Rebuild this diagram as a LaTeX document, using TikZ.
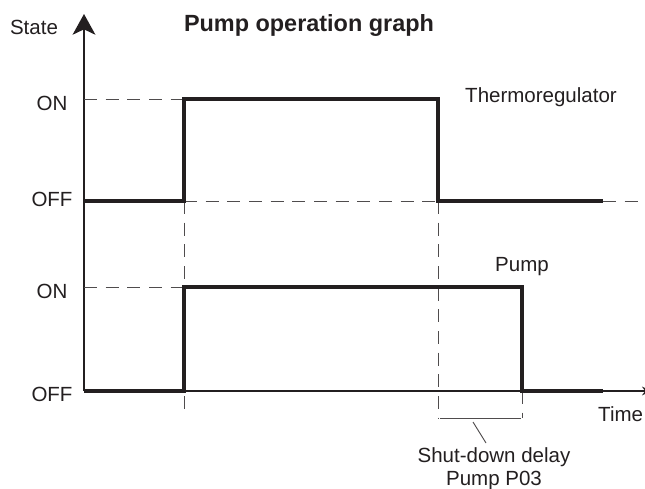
\documentclass[tikz,border=0pt]{standalone}
\usepackage{fontspec}
\setmainfont{Liberation Sans}
\usetikzlibrary{arrows.meta}
\definecolor{ink}{HTML}{231F20}
\tikzset{
  signal/.style={draw=ink,line width=3.4pt},
  guide/.style={draw=ink!80,line width=0.8pt,dash pattern=on 11pt off 7.5pt},
  thinline/.style={draw=ink!80,line width=0.8pt},
  lbl/.style={inner sep=0pt,anchor=base,font=\fontsize{17.5}{20}\selectfont,text=ink}
}
\begin{document}
\begin{tikzpicture}[x=0.03cm,y=-0.03cm]
\useasboundingbox (0,0) rectangle (645,489);
% axes
\draw[draw=ink,line width=2pt,-{Stealth[length=0.62cm,width=0.68cm,inset=0.16cm]}] (84,391) -- (84,14);
\draw[draw=ink,line width=1pt,-{Stealth[length=0.3cm,width=0.26cm]}] (84,391) -- (652,391);
% guide lines
\draw[guide] (84,99) -- (184,99);
\draw[guide] (184,201) -- (438,201);
\draw[guide] (603,201) -- (645,201);
\draw[guide] (84,287) -- (184,287);
\draw[guide] (184,201) -- (184,415);
\draw[guide] (438,201) -- (438,418);
\draw[guide] (522,391) -- (522,418);
% thermoregulator and pump
\draw[signal] (84,201) -- (184,201) -- (184,99) -- (438,99) -- (438,201) -- (603,201);
\draw[signal] (84,391) -- (184,391) -- (184,287) -- (522,287) -- (522,391) -- (603,391);
% delay bracket
\coordinate (bl) at (440,418);
\coordinate (br) at (521,418);
\coordinate (lead) at (473,422);
\coordinate (leadend) at (486,443);
\draw[thinline] (bl) -- (br);
\draw[thinline] (lead) -- (leadend);
% labels
\node[lbl] (state) at (34,35) {State};
\node[lbl,font=\fontsize{20}{22}\selectfont\bfseries] (title) at (309,32) {Pump operation graph};
\node[lbl] (on1) at (52,111) {ON};
\node[lbl] (off1) at (52,207) {OFF};
\node[lbl] (on2) at (52,299) {ON};
\node[lbl] (off2) at (52,402) {OFF};
\node[lbl] (thermo) at (541,103) {Thermoregulator};
\node[lbl] (pump) at (522,272) {Pump};
\node[lbl,anchor=base west] (time) at (598,422) {Time};
\node[lbl] (delay) at (494,462) {Shut-down delay};
\node[lbl] (p03) at (494,485) {Pump P03};
\end{tikzpicture}
\end{document}
